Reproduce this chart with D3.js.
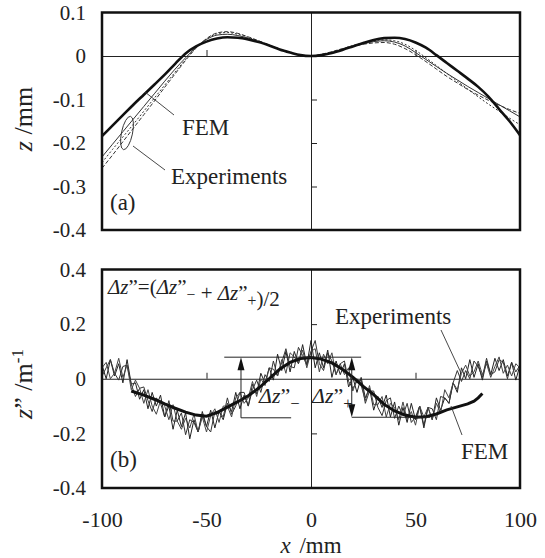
<!DOCTYPE html>
<html>
<head>
<meta charset="utf-8">
<script src="https://cdn.jsdelivr.net/npm/d3@7"></script>
<style>
  body { margin: 0; background: #fff; }
</style>
</head>
<body>
<svg id="chart" width="545" height="558"></svg>
<script>
// ---- data: panel (a) z /mm ----
const xA = [-100,-95,-90,-85,-80,-75,-70,-65,-60,-55,-50,-45,-40,-35,-30,-25,-20,-15,-10,-5,0,5,10,15,20,25,30,35,40,45,50,55,60,65,70,75,80,85,90,95,100];
const femA = [-0.184,-0.160,-0.136,-0.112,-0.089,-0.066,-0.043,-0.018,0.006,0.022,0.033,0.040,0.043,0.042,0.038,0.032,0.024,0.015,0.008,0.002,0.000,0.002,0.007,0.014,0.022,0.030,0.037,0.041,0.042,0.039,0.031,0.019,0.002,-0.016,-0.034,-0.052,-0.071,-0.094,-0.122,-0.150,-0.182];
const expA1 = [-0.232,-0.203,-0.174,-0.145,-0.116,-0.087,-0.058,-0.030,-0.004,0.020,0.038,0.048,0.050,0.047,0.041,0.033,0.024,0.015,0.008,0.002,0.000,0.003,0.008,0.015,0.022,0.028,0.033,0.035,0.032,0.023,0.008,-0.008,-0.024,-0.040,-0.055,-0.070,-0.084,-0.098,-0.112,-0.126,-0.140];
const expA2 = [-0.258,-0.228,-0.197,-0.166,-0.135,-0.104,-0.072,-0.041,-0.010,0.018,0.040,0.053,0.056,0.052,0.044,0.035,0.025,0.016,0.008,0.002,0.000,0.004,0.010,0.017,0.023,0.027,0.030,0.031,0.027,0.017,0.003,-0.013,-0.030,-0.047,-0.062,-0.077,-0.090,-0.102,-0.113,-0.123,-0.132];
const expA3 = [-0.245,-0.215,-0.186,-0.157,-0.127,-0.097,-0.067,-0.037,-0.008,0.019,0.039,0.051,0.054,0.050,0.043,0.034,0.025,0.016,0.008,0.002,0.000,0.003,0.009,0.016,0.024,0.030,0.035,0.037,0.035,0.027,0.013,-0.004,-0.022,-0.040,-0.058,-0.076,-0.094,-0.111,-0.127,-0.143,-0.158];

// ---- data: panel (b) z'' /m^-1 ----
const xFemB = [-86,-80,-75,-70,-65,-60,-55,-50,-45,-40,-35,-30,-25,-20,-15,-10,-5,0,5,10,15,20,25,30,35,40,45,50,55,60,65,70,75,78,80,82];
const femB = [-0.045,-0.060,-0.075,-0.092,-0.108,-0.122,-0.133,-0.137,-0.124,-0.104,-0.084,-0.062,-0.034,0.000,0.035,0.060,0.074,0.078,0.072,0.058,0.035,0.006,-0.028,-0.058,-0.094,-0.118,-0.133,-0.141,-0.139,-0.129,-0.114,-0.103,-0.092,-0.082,-0.070,-0.054];
const xExpB = [-100,-98,-96,-94,-92,-90,-88,-86,-84,-82,-80,-78,-76,-74,-72,-70,-68,-66,-64,-62,-60,-58,-56,-54,-52,-50,-48,-46,-44,-42,-40,-38,-36,-34,-32,-30,-28,-26,-24,-22,-20,-18,-16,-14,-12,-10,-8,-6,-4,-2,0,2,4,6,8,10,12,14,16,18,20,22,24,26,28,30,32,34,36,38,40,42,44,46,48,50,52,54,56,58,60,62,64,66,68,70,72,74,76,78,80,82,84,86,88,90,92,94,96,98,100];
const expB1 = [0.05,0,0.07,0.01,0.055,-0.015,0.07,-0.02,-0.015,-0.075,
  -0.04,-0.11,-0.05,-0.10,-0.06,-0.14,-0.10,-0.185,-0.115,-0.175,
  -0.125,-0.22,-0.15,-0.195,-0.12,-0.175,-0.115,-0.18,-0.12,-0.15,
  -0.09,-0.12,-0.05,-0.11,-0.06,-0.10,-0.02,-0.055,0.02,-0.015,
  0.04,-0.005,0.09,0.03,0.10,0.025,0.10,0.055,0.125,0.05,
  0.14,0.04,0.095,0.04,0.105,0.005,0.065,0.015,0.055,-0.03,
  0.005,-0.05,0.005,-0.07,-0.035,-0.115,-0.065,-0.105,-0.06,-0.14,
  -0.085,-0.17,-0.105,-0.16,-0.09,-0.15,-0.10,-0.18,-0.105,-0.15,
  -0.07,-0.115,-0.07,-0.09,-0.015,-0.05,0.04,0,0.07,0.005,
  0.055,-0.005,0.065,0.015,0.075,0.03,0.07,0.01,0.06,-0.005,0.05];
const expB2 = [0.01,0.04,0.07,0.02,-0.005,0.045,0.05,-0.02,-0.065,-0.035,
  -0.03,-0.08,-0.12,-0.07,-0.09,-0.14,-0.08,-0.155,-0.155,-0.125,
  -0.205,-0.15,-0.16,-0.195,-0.13,-0.175,-0.195,-0.12,-0.12,-0.14,
  -0.07,-0.13,-0.10,-0.05,-0.05,-0.10,-0.04,-0.005,-0.05,0.015,
  -0.01,0.065,0.01,0.06,0.11,0.045,0.04,0.115,0.085,0.05,
  0.10,0.14,0.055,0.03,0.095,0.065,0.015,0.055,0.065,-0.01,
  -0.035,-0.01,-0.005,-0.09,-0.045,-0.045,-0.105,-0.135,-0.08,-0.07,
  -0.145,-0.10,-0.135,-0.09,-0.16,-0.14,-0.10,-0.17,-0.105,-0.11,
  -0.15,-0.065,-0.07,-0.09,-0.015,0.03,-0.01,0.03,0,0.065,
  0.045,0.005,0.075,0.015,0.025,0.07,0.06,0,0.06,0.025,0.05];
const expB3 = [0.04,0.06,0,0.02,0.075,0.005,0.05,-0.04,-0.005,-0.035,
  -0.09,-0.04,-0.10,-0.13,-0.08,-0.10,-0.15,-0.095,-0.155,-0.185,
  -0.145,-0.18,-0.13,-0.195,-0.14,-0.195,-0.135,-0.11,-0.16,-0.10,
  -0.10,-0.14,-0.07,-0.05,-0.09,-0.07,-0.01,-0.065,0,-0.025,
  0.04,0.035,0.01,0.07,0.02,0.095,0.08,0.055,0.105,0.04,
  0.10,0.11,0.025,0.09,0.055,0.095,0.015,0.055,0.015,0.04,
  -0.045,0,-0.025,-0.08,-0.025,-0.095,-0.095,-0.065,-0.14,-0.09,
  -0.105,-0.15,-0.085,-0.15,-0.12,-0.17,-0.10,-0.14,-0.105,-0.15,
  -0.09,-0.125,-0.04,-0.07,-0.015,-0.04,0.02,0.05,0.01,0.025,
  0.065,0.015,0.055,0.005,0.045,0.08,0.02,0.05,0.01,0.055,0.04];

const xTicks = [-100, -50, 0, 50, 100];
const yTicksA = [0.1, 0, -0.1, -0.2, -0.3, -0.4];
const yTicksB = [0.4, 0.2, 0, -0.2, -0.4];

const serif = "'Liberation Serif'";
const svg = d3.select("#chart");

const x = d3.scaleLinear().domain([-100, 100]).range([102, 520]);
const yA = d3.scaleLinear().domain([-0.4, 0.1]).range([230, 12.5]);
const yB = d3.scaleLinear().domain([-0.4, 0.4]).range([488, 269.5]);

const fmt = d => d === 0 ? "0" : d3.format(".1f")(d).replace("\u2212", "-");

// clip paths for each panel
const defs = svg.append("defs");
defs.append("clipPath").attr("id", "clipA").append("rect")
    .attr("x", x(-100)).attr("y", yA(0.1)).attr("width", x(100) - x(-100)).attr("height", yA(-0.4) - yA(0.1));
defs.append("clipPath").attr("id", "clipB").append("rect")
    .attr("x", x(-100)).attr("y", yB(0.4)).attr("width", x(100) - x(-100)).attr("height", yB(-0.4) - yB(0.4));

function innerAxes(y, yInner) {
    // zero line with ticks at +-50
    svg.append("g")
        .attr("transform", `translate(0,${y(0)})`)
        .call(d3.axisTop(x).tickValues([-50, 50]).tickSize(6).tickSizeOuter(0).tickFormat(""))
        .call(g => g.selectAll("path, line").attr("stroke", "#222").attr("stroke-width", 1));
    // x=0 line with ticks
    svg.append("g")
        .attr("transform", `translate(${x(0)},0)`)
        .call(d3.axisRight(y).tickValues(yInner).tickSize(6).tickSizeOuter(0).tickFormat(""))
        .call(g => g.selectAll("path, line").attr("stroke", "#222").attr("stroke-width", 1));
}

function yLabels(y, ticks) {
    svg.append("g")
        .attr("transform", `translate(${x(-100)},0)`)
        .call(d3.axisLeft(y).tickValues(ticks).tickSize(0).tickPadding(16).tickFormat(fmt))
        .call(g => g.select(".domain").remove())
        .call(g => g.selectAll("text")
            .style("font-family", serif)
            .style("font-size", "21px")
            .attr("fill", "#222"));
}

function label(px, py, size, str) {
    return svg.append("text").attr("x", px).attr("y", py)
        .style("font-family", serif).style("font-size", size + "px")
        .attr("fill", "#222").text(str);
}

// ================= panel (a) =================
innerAxes(yA, [-0.3, -0.2, -0.1]);
yLabels(yA, yTicksA);

const lineA = arr => d3.line().x((d, i) => x(xA[i])).y(d => yA(d)).curve(d3.curveMonotoneX)(arr);
const gA = svg.append("g").attr("clip-path", "url(#clipA)");
gA.append("path").attr("d", lineA(expA1)).attr("fill", "none").attr("stroke", "#333").attr("stroke-width", 1);
gA.append("path").attr("d", lineA(expA2)).attr("fill", "none").attr("stroke", "#333").attr("stroke-width", 1).attr("stroke-dasharray", "4,2");
gA.append("path").attr("d", lineA(expA3)).attr("fill", "none").attr("stroke", "#333").attr("stroke-width", 1).attr("stroke-dasharray", "2,2");
gA.append("path").attr("d", lineA(femA)).attr("fill", "none").attr("stroke", "#111").attr("stroke-width", 2.6);

svg.append("rect")
    .attr("x", x(-100)).attr("y", yA(0.1))
    .attr("width", x(100) - x(-100)).attr("height", yA(-0.4) - yA(0.1))
    .attr("fill", "none").attr("stroke", "#111").attr("stroke-width", 2.5);

// annotations (a)
svg.append("line").attr("x1", 145).attr("y1", 92).attr("x2", 174).attr("y2", 115).attr("stroke", "#333").attr("stroke-width", 0.9);
label(182, 135, 23, "FEM");
svg.append("ellipse").attr("cx", 127).attr("cy", 133).attr("rx", 5.5).attr("ry", 17)
    .attr("transform", "rotate(12,127,133)")
    .attr("fill", "none").attr("stroke", "#333").attr("stroke-width", 0.9);
svg.append("line").attr("x1", 133).attr("y1", 146).attr("x2", 165).attr("y2", 170).attr("stroke", "#333").attr("stroke-width", 0.9);
label(171, 184, 23, "Experiments");
label(110, 210, 23, "(a)");

// y title (a)
label(0, 0, 26, null)
    .attr("transform", "translate(32,119) rotate(-90)")
    .attr("text-anchor", "middle")
    .call(t => {
        t.append("tspan").style("font-style", "italic").text("z");
        t.append("tspan").text(" /mm");
    });

// ================= panel (b) =================
innerAxes(yB, [-0.2, 0.2]);
yLabels(yB, yTicksB);

const gB = svg.append("g").attr("clip-path", "url(#clipB)");
const lineB = d3.line().x(d => x(d[0])).y(d => yB(d[1]));
[expB1, expB2, expB3].forEach((s, k) => {
    gB.append("path")
        .attr("d", lineB(s.map((v, i) => [xExpB[i], v])))
        .attr("fill", "none")
        .attr("stroke", ["#222", "#333", "#444"][k])
        .attr("stroke-width", 1);
});
gB.append("path")
    .attr("d", lineB(femB.map((v, i) => [xFemB[i], v])))
    .attr("fill", "none").attr("stroke", "#111").attr("stroke-width", 3);

svg.append("rect")
    .attr("x", x(-100)).attr("y", yB(0.4))
    .attr("width", x(100) - x(-100)).attr("height", yB(-0.4) - yB(0.4))
    .attr("fill", "none").attr("stroke", "#111").attr("stroke-width", 2.5);

// delta markers
const femPeak = 0.079, femLowL = -0.143, femLowR = -0.141;
const mk = svg.append("g").attr("stroke", "#222").attr("stroke-width", 1);
mk.append("line").attr("x1", x(-41.5)).attr("x2", x(24)).attr("y1", yB(femPeak)).attr("y2", yB(femPeak));
mk.append("line").attr("x1", x(-33.5)).attr("x2", x(-9.5)).attr("y1", yB(femLowL)).attr("y2", yB(femLowL));
mk.append("line").attr("x1", x(19.5)).attr("x2", x(57)).attr("y1", yB(femLowR)).attr("y2", yB(femLowR));
mk.append("line").attr("x1", x(-33.5)).attr("x2", x(-33.5)).attr("y1", yB(femLowL)).attr("y2", yB(femPeak) + 10);
mk.append("line").attr("x1", x(19.5)).attr("x2", x(19.5)).attr("y1", yB(femLowR) - 10).attr("y2", yB(femPeak) + 10);
function head(px, py, dir) {
    // dir -1 = up, +1 = down ; tip at (px, py)
    svg.append("path")
        .attr("d", `M${px},${py} L${px - 3.5},${py - dir * 13} L${px + 3.5},${py - dir * 13} Z`)
        .attr("fill", "#111");
}
head(x(-33.5), yB(femPeak), -1);
head(x(19.5), yB(femPeak), -1);
head(x(19.5), yB(femLowR), 1);

function dz(sel, sub, size) {
    sel.append("tspan").style("font-style", "italic").text("\u0394z");
    sel.append("tspan").text("\u201D");
    if (sub) {
        sel.append("tspan").attr("dy", 6).style("font-size", (size * 0.75) + "px").text(sub);
        sel.append("tspan").attr("dy", -6).text("");
    }
}
label(108, 294, 21, null).call(t => {
    dz(t, null, 21);
    t.append("tspan").text("=(");
    dz(t, "\u2212", 21);
    t.append("tspan").text(" + ");
    dz(t, "+", 21);
    t.append("tspan").text(")/2");
});
label(259, 403, 22, null).call(t => dz(t, "\u2212", 22));
label(312, 403, 22, null).call(t => dz(t, "+", 22));

label(335, 324, 23, "Experiments");
svg.append("line").attr("x1", 441).attr("y1", 330).attr("x2", 461).attr("y2", 373).attr("stroke", "#333").attr("stroke-width", 0.9);
svg.append("line").attr("x1", 451).attr("y1", 406).attr("x2", 462).attr("y2", 435).attr("stroke", "#333").attr("stroke-width", 0.9);
label(461, 459, 23, "FEM");
label(110, 467, 23, "(b)");

// y title (b)
label(0, 0, 26, null)
    .attr("transform", "translate(32,384) rotate(-90)")
    .attr("text-anchor", "middle")
    .call(t => {
        t.append("tspan").style("font-style", "italic").text("z");
        t.append("tspan").text("\u201D /m");
        t.append("tspan").attr("dy", -9).style("font-size", "17px").text("-1");
    });

// x axis (b)
svg.append("g")
    .attr("transform", `translate(0,${yB(-0.4)})`)
    .call(d3.axisBottom(x).tickValues(xTicks).tickSize(0).tickPadding(23).tickFormat(d => String(d)))
    .call(g => g.select(".domain").remove())
    .call(g => g.selectAll("text")
        .style("font-family", serif)
        .style("font-size", "22px")
        .attr("fill", "#222"));

label(x(0), 553, 23, null)
    .attr("text-anchor", "middle")
    .call(t => {
        t.append("tspan").style("font-style", "italic").text("x");
        t.append("tspan").attr("dx", 3).text(" /mm");
    });
</script>
</body>
</html>
